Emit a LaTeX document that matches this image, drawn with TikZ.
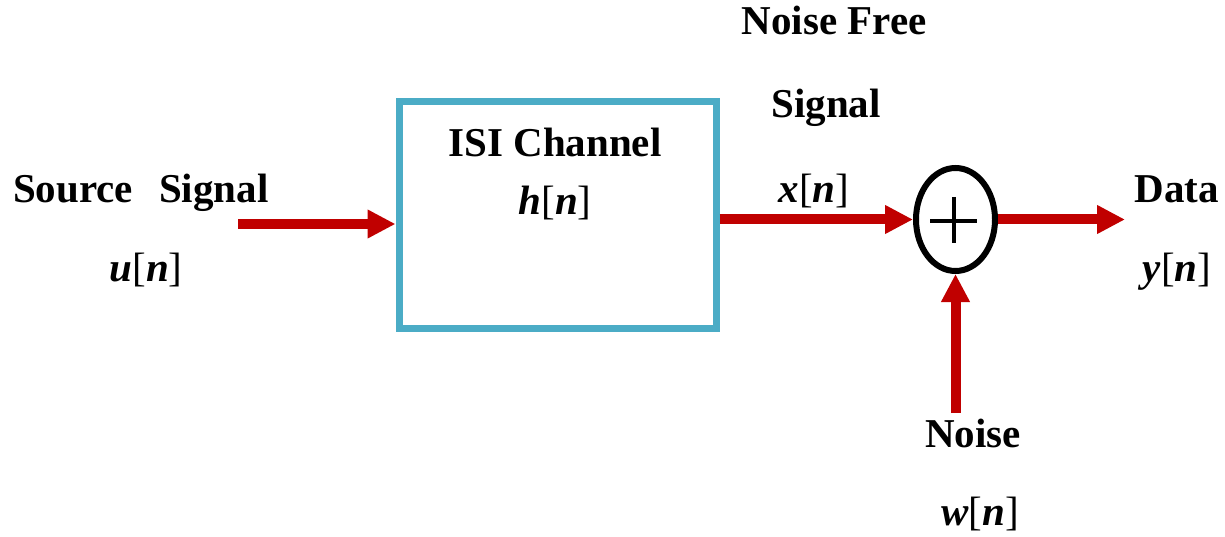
\documentclass[tikz,border=0pt]{standalone}
\usepackage{fontspec}
\setmainfont{Liberation Serif}
\usetikzlibrary{arrows.meta,shapes.geometric}
\definecolor{chanblue}{HTML}{4BACC6}
\definecolor{sigred}{HTML}{C00000}
% bold italic sequence name with upright brackets, e.g. u[n]
\newcommand{\seq}[1]{\textbf{\textit{#1}}{\mdseries[}\textbf{\textit{n}}{\mdseries]}}
\begin{document}
\begin{tikzpicture}[x=1pt,y=-1pt,
  lbl/.style={font=\fontsize{41}{48}\selectfont\bfseries, anchor=base, inner sep=0pt},
  flow/.style={draw=sigred, line width=10pt, -{Triangle[length=28pt,width=27pt]}},
  chanbox/.style={draw=chanblue, line width=7pt, minimum width=317pt, minimum height=226pt, inner sep=0pt},
  adder/.style={ellipse, draw=black, line width=6pt, minimum width=79pt, minimum height=103pt, inner sep=0pt}]
\useasboundingbox (0,0) rectangle (1225,537);

% blocks
\node[chanbox] (chan) at (557.5,215) {};
\node[adder] (sum) at (955.5,219.5) {};
\draw[line width=4pt] (930,221) -- (977,221) (954,197) -- (954,243);

% free ends of the connectors
\coordinate (src) at (238,224);
\coordinate (out) at (1125,219.5);
\coordinate (nz) at (955.5,413);

% connectors
\draw[flow] (src) -- (src -| chan.west);
\draw[flow] (chan.east |- sum.west) -- (sum.west);
\draw[flow] (sum.east) -- (out);
\draw[flow] (nz) -- (sum.south);

% labels
\node[lbl, anchor=base west] (srclbl) at (13,203) {Source\hspace{26pt}Signal};
\node[lbl] (ulbl) at (146,281) {\seq{u}};
\node[lbl] (chanlbl) at (555,157) {ISI Channel};
\node[lbl] (hlbl) at (555,215) {\seq{h}};
\node[lbl] (nflbl) at (834,35) {Noise Free};
\node[lbl] (siglbl) at (826,118) {Signal};
\node[lbl] (xlbl) at (814,203) {\seq{x}};
\node[lbl] (datalbl) at (1177,203) {Data};
\node[lbl] (ylbl) at (1177,281) {\seq{y}};
\node[lbl] (noiselbl) at (973,447) {Noise};
\node[lbl] (wlbl) at (980,525) {\seq{w}};
\end{tikzpicture}
\end{document}
